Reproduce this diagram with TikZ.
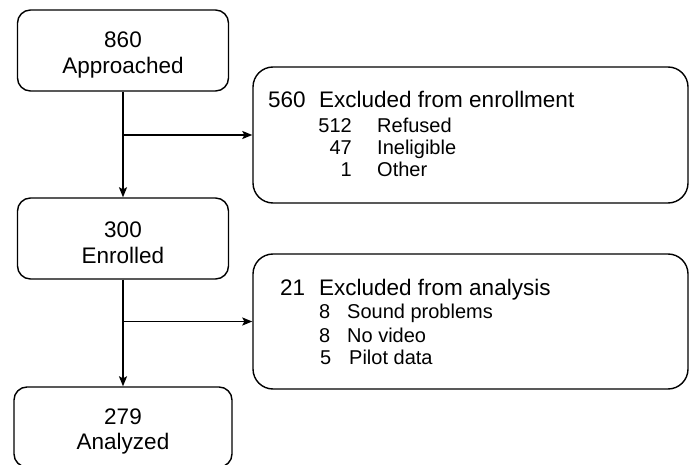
\documentclass[tikz,border=0pt]{standalone}
\usepackage{fontspec}
\setmainfont{Liberation Sans}
\usetikzlibrary{arrows.meta}
\begin{document}
\begin{tikzpicture}[x=1pt,y=-1pt,
  box/.style={draw, line width=1.4pt, rounded corners=13pt, inner sep=0pt},
  lbl/.style={inner sep=0pt, align=center, font=\fontsize{22.5}{25.5}\selectfont},
  sidebox/.style={draw, line width=1.4pt, rounded corners=20pt, inner sep=0pt,
    minimum width=435pt, minimum height=136pt},
  head/.style={anchor=base west, inner sep=0pt, font=\fontsize{22.5}{25}\selectfont},
  item/.style={anchor=base west, inner sep=0pt, font=\fontsize{20}{22}\selectfont},
  num/.style={anchor=base east, inner sep=0pt, font=\fontsize{20}{22}\selectfont},
  conn/.style={line width=1.4pt, -{Stealth[length=10pt,width=8pt,inset=2pt]}}]
\clip (0,0) rectangle (696,465);
\useasboundingbox (0,0) rectangle (696,465);
% left column
\node[box, minimum width=211pt, minimum height=81pt] (b1) at (123,50.5) {};
\node[box, minimum width=211pt, minimum height=81pt] (b2) at (123,238.5) {};
\node[box, minimum width=218pt, minimum height=80pt] (b3) at (123,427) {};
\node[lbl] (b1t) at ([yshift=-4.5pt]b1.center) {860\\Approached};
\node[lbl] (b2t) at ([yshift=-4.5pt]b2.center) {300\\Enrolled};
\node[lbl] (b3t) at ([yshift=-4.5pt]b3.center) {279\\Analyzed};
% right boxes
\node[sidebox] (r1) at (470.5,135) {};
\node[sidebox, minimum height=135pt] (r2) at (470.5,321.5) {};
% texts box r1
\node[head] (r1n) at (268,108) {560};
\node[head] (r1h) at (319,108) {Excluded from enrollment};
\node[num] (r1a) at (352,133) {512};
\node[item] (r1at) at (377,133) {Refused};
\node[num] (r1b) at (352,155) {47};
\node[item] (r1bt) at (377,155) {Ineligible};
\node[num] (r1c) at (352,177) {1};
\node[item] (r1ct) at (377,177) {Other};
% texts box r2
\node[head] (r2n) at (280,295) {21};
\node[head] (r2h) at (319,295) {Excluded from analysis};
\node[item] (r2a) at (319,318) {8};
\node[item] (r2at) at (347,318) {Sound problems};
\node[item] (r2b) at (319,342) {8};
\node[item] (r2bt) at (347,342) {No video};
\node[item] (r2c) at (320,364) {5};
\node[item] (r2ct) at (349,364) {Pilot data};
% connectors
\draw[conn] (b1.south) -- (b2.north);
\draw[conn] (b1.south |- r1.west) -- (r1.west);
\draw[conn] (b2.south) -- (b3.north);
\draw[conn] (b2.south |- r2.west) -- (r2.west);
\end{tikzpicture}
\end{document}
